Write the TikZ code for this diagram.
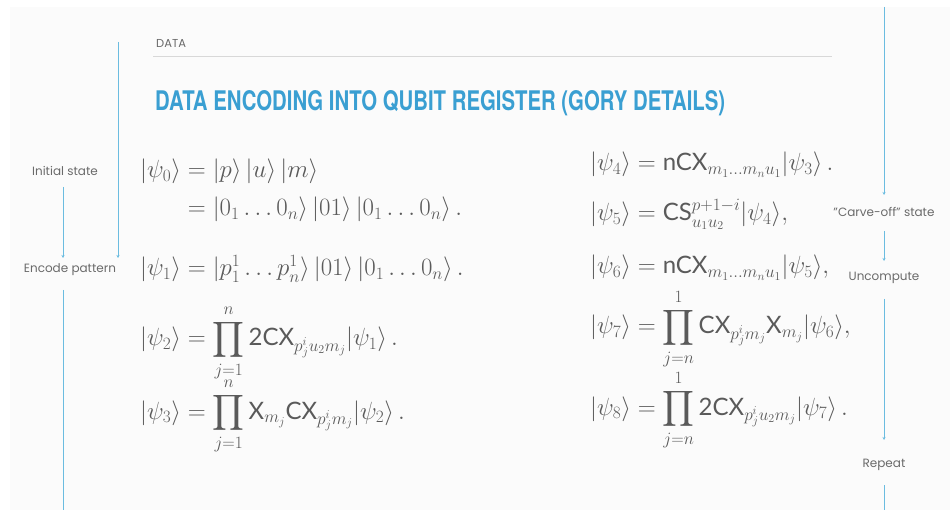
\documentclass[tikz,border=0pt]{standalone}
\usepackage{amsmath}
\usepackage{fontspec}
\setmainfont{Poppins}
\newfontfamily\titlefont{TeX Gyre Heros}
\newfontfamily\gatefont{Lato}
\usetikzlibrary{arrows.meta}
\definecolor{flow}{HTML}{6BBCE0}
\definecolor{titleblue}{HTML}{3A9FD2}
\definecolor{eqgray}{HTML}{5A5A5A}
\definecolor{labgray}{HTML}{6A6A6A}
\definecolor{rulegray}{HTML}{D8D8D8}
\definecolor{slidebg}{HTML}{FBFBFB}
\newcommand{\gt}[1]{\text{\gatefont #1}}
\newcommand{\sdots}{{\ldotp\ldotp\ldotp}}
\tikzset{
  flowline/.style={draw=flow, line width=0.9pt},
  flowarrow/.style={flowline, -{Stealth[length=3pt,width=3pt]}},
  steplabel/.style={font=\fontsize{12}{14}\selectfont, text=labgray, inner sep=2pt},
  eq/.style={anchor=base west, inner sep=0pt, text=eqgray, font=\fontsize{24}{28}\selectfont},
}
\begin{document}
\begin{tikzpicture}[x=1pt,y=-1pt]
\useasboundingbox (0,0) rectangle (950,510);
\fill[white] (0,0) rectangle (950,510);
\fill[slidebg] (10,7) rectangle (950,510);

% header
\node[anchor=base west, inner sep=0pt, text=labgray, font=\fontsize{11.5}{14}\selectfont] (hdr) at (156,48) {DATA};
\coordinate (ruleL) at (153,57);
\coordinate (ruleR) at (832,57);
\draw[rulegray, line width=1pt] (ruleL) -- (ruleR);
\node[anchor=base west, inner sep=0pt, text=titleblue] (title) at (155,111)
  {\resizebox{570pt}{\height}{\titlefont\bfseries\fontsize{27}{30}\selectfont DATA ENCODING INTO QUBIT REGISTER (GORY DETAILS)}};

% left flow
\node[steplabel] (init) at (65,171) {Initial state};
\node[steplabel] (enc) at (70,270) {Encode pattern};
\coordinate (topL) at (118,42);
\coordinate (encR) at (118,258);
\coordinate (initS) at (63,187);
\coordinate (encN) at (63,258);
\coordinate (encS) at (63,290);
\coordinate (botL) at (63,510);
\draw[flowarrow] (initS) -- (encN);
\draw[flowarrow] (topL) -- (encR);
\draw[flowline] (encS) -- (botL);

% right flow
\node[steplabel] (carve) at (884,212) {"Carve-off" state};
\node[steplabel] (unc) at (884,278) {Uncompute};
\node[steplabel] (rep) at (884,465) {Repeat};
\coordinate (topR) at (884,7);
\coordinate (carveN) at (884,195);
\coordinate (carveS) at (884,231);
\coordinate (uncN) at (884,261);
\coordinate (uncS) at (884,299);
\coordinate (repN) at (884,440);
\coordinate (repS) at (884,485);
\coordinate (botR) at (884,510);
\draw[flowarrow] (topR) -- (carveN);
\draw[flowarrow] (carveS) -- (uncN);
\draw[flowarrow] (uncS) -- (repN);
\draw[flowline] (repS) -- (botR);

% left equations
\node[eq] (e0) at (140,178) {$|\psi_0\rangle = |p\rangle\,|u\rangle\,|m\rangle$};
\node[eq] (e0b) at (140,216) {$\phantom{|\psi_0\rangle} = |0_1\ldots 0_n\rangle\,|01\rangle\,|0_1\ldots 0_n\rangle\,.$};
\node[eq] (e1) at (140,276) {$|\psi_1\rangle = |p^1_1\ldots p^1_n\rangle\,|01\rangle\,|0_1\ldots 0_n\rangle\,.$};
\node[eq] (e2) at (140,346) {$\displaystyle |\psi_2\rangle = \prod_{j=1}^{n}\gt{2CX}_{p^i_j u_2 m_j}|\psi_1\rangle\,.$};
\node[eq] (e3) at (140,419) {$\displaystyle |\psi_3\rangle = \prod_{j=1}^{n}\gt{X}_{m_j}\gt{CX}_{p^i_j m_j}|\psi_2\rangle\,.$};

% right equations
\node[eq] (e4) at (590,171) {$|\psi_4\rangle = \gt{nCX}_{m_1\sdots m_n u_1}|\psi_3\rangle\,.$};
\node[eq] (e5) at (590,221) {$|\psi_5\rangle = \gt{CS}^{p+1-i}_{u_1u_2}|\psi_4\rangle,$};
\node[eq] (e6) at (590,274) {$|\psi_6\rangle = \gt{nCX}_{m_1\sdots m_n u_1}|\psi_5\rangle,$};
\node[eq] (e7) at (590,334) {$\displaystyle |\psi_7\rangle = \prod_{j=n}^{1}\gt{CX}_{p^i_j m_j}\gt{X}_{m_j}|\psi_6\rangle,$};
\node[eq] (e8) at (590,415) {$\displaystyle |\psi_8\rangle = \prod_{j=n}^{1}\gt{2CX}_{p^i_j u_2 m_j}|\psi_7\rangle\,.$};
\end{tikzpicture}
\end{document}
